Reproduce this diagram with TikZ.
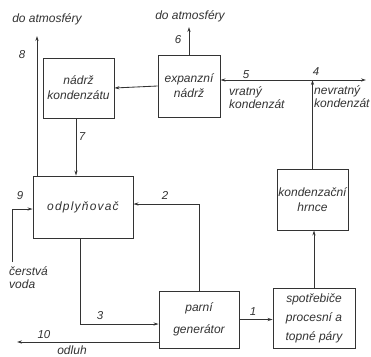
\documentclass[tikz,border=0pt]{standalone}
\usepackage{fontspec}
\setmainfont{Liberation Sans}
\usetikzlibrary{arrows.meta,calc}
\definecolor{ink}{gray}{0.2}
\tikzset{
  block/.style={draw=ink, line width=0.9pt, rectangle, inner sep=0pt, align=center,
                font=\fontsize{12}{15}\selectfont\itshape, text=ink},
  flow/.style={draw=ink, line width=0.85pt, -{Stealth[length=5pt,width=3.2pt]}},
  lbl/.style={font=\fontsize{12}{13.5}\selectfont\itshape, text=ink, inner sep=0pt},
  num/.style={font=\fontsize{11.5}{13}\selectfont\itshape, text=ink, inner sep=0pt}
}
\begin{document}
\begin{tikzpicture}[x=1pt,y=-1pt]
  \useasboundingbox[fill=white] (0,0) rectangle (371,356);

  % process blocks
  \node[block, minimum width=71pt, minimum height=60pt] (nk) at (78.5,88) {nádrž\\kondenzátu};
  \node[block, minimum width=62pt, minimum height=62pt] (ex) at (189,86) {expanzní\\nádrž};
  \node[block, minimum width=100pt, minimum height=62pt] (od) at (83,207)
       {\addfontfeature{LetterSpace=10}odplyňovač};
  \node[block, minimum width=71pt, minimum height=61pt] (kh) at (312.5,199.5) {kondenzační\\hrnce};
  \node[block, minimum width=80pt, minimum height=57pt, font=\fontsize{12}{22}\selectfont\itshape]
       (pg) at (199,319.5) {parní\\generátor};
  \node[block, minimum width=82pt, minimum height=60pt, font=\fontsize{12}{19}\selectfont\itshape]
       (sp) at (314,318) {spotřebiče\\procesní a\\topné páry};

  % free ends of the streams
  \coordinate (atm8) at (37,36);
  \coordinate (atm6) at (189,27);
  \coordinate (j) at (312.5,80);
  \coordinate (out4) at (366,80);
  \coordinate (fw) at (12,262);
  \coordinate (c3) at (80,324);
  \coordinate (out10) at (17,342);

  % streams
  \draw[flow] (atm8 |- od.north) -- (atm8);
  \draw[flow] (nk.south -| 76,0) -- (od.north -| 76,0);
  \draw[flow] (ex.west) -- (nk.east);
  \draw[flow] (ex.north) -- (atm6);
  \draw[flow] (kh.north) -- (j);
  \draw[flow] (j) -- (ex.east |- j);
  \draw[flow] (j) -- (out4);
  \draw[flow] (pg.north) |- ($(od.east)+(0,-3)$);
  \draw[flow] (fw) |- ($(od.west)+(0,2)$);
  \draw[flow] (c3 |- od.south) -- (c3) -- (c3 -| pg.west);
  \draw[flow] (out10 -| pg.west) -- (out10);
  \draw[flow] (pg.east) -- (pg.east -| sp.west);
  \draw[flow] (sp.north) -- (sp.north |- kh.south);

  % stream numbers
  \node[num] (n8) at (22,55) {8};
  \node[num] (n6) at (178,40) {6};
  \node[num] (n7) at (82,137) {7};
  \node[num] (n5) at (246,75) {5};
  \node[num] (n4) at (316,72) {4};
  \node[num] (n9) at (20,196) {9};
  \node[num] (n2) at (165,195) {2};
  \node[num] (n3) at (100,316) {3};
  \node[num] (n10) at (44,335) {10};
  \node[num] (n1) at (253,312) {1};

  % stream descriptions
  \node[lbl] (a8) at (47,19) {do atmosféry};
  \node[lbl] (a6) at (190,16) {do atmosféry};
  \node[lbl, anchor=north west, align=left] (vk) at (229,86) {vratný\\kondenzát};
  \node[lbl, anchor=north west, align=left] (nvk) at (314,85) {nevratný\\kondenzát};
  \node[lbl, anchor=north west, align=left] (cv) at (9,266) {čerstvá\\voda};
  \node[lbl] (odl) at (72,350) {odluh};
\end{tikzpicture}
\end{document}
